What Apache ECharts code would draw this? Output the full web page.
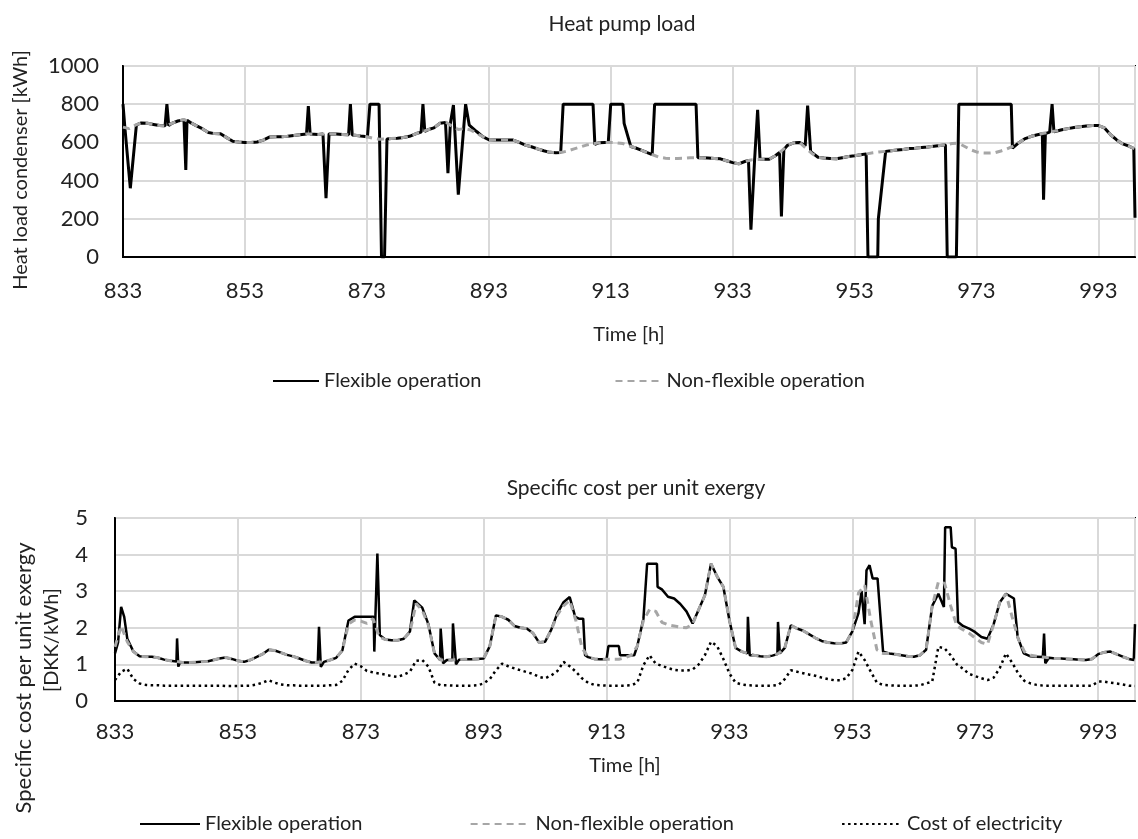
<!DOCTYPE html>
<html>
<head>
<meta charset="utf-8">
<title>Heat pump load / Specific cost per unit exergy</title>
<script src="https://cdn.jsdelivr.net/npm/echarts@6/dist/echarts.min.js"></script>
<style>
  html, body { margin: 0; padding: 0; background: #fff; }
  #chart { width: 1138px; height: 839px; }
</style>
</head>
<body>
<div id="chart"></div>
<script>
  // hour 0 on the axis is hour 833 of the year
  const T0 = 833
  const tickLabelsX = ['833', '853', '873', '893', '913', '933', '953', '973', '993']

  // heat load condenser [kWh], non-flexible, one value per hour (833..999)
  const loadNonFlex = [
    680, 672, 690, 702, 700, 694, 688, 686, 700, 712,
    720, 705, 688, 672, 652, 646, 645, 625, 606, 602,
    600, 600, 602, 612, 628, 630, 630, 632, 636, 640,
    644, 644, 642, 644, 645, 644, 642, 640, 638, 634,
    630, 622, 617, 618, 620, 622, 626, 632, 645, 655,
    666, 676, 700, 706, 684, 668, 672, 665, 648, 630,
    614, 613, 613, 613, 612, 600, 586, 577, 566, 556,
    548, 546, 548, 556, 566, 576, 586, 592, 598, 600,
    600, 598, 594, 582, 572, 560, 546, 534, 522, 517,
    516, 516, 517, 520, 520, 520, 518, 516, 514, 504,
    494, 488, 500, 508, 510, 512, 512, 530, 555, 585,
    598, 600, 570, 542, 522, 518, 516, 514, 520, 526,
    530, 535, 540, 546, 550, 553, 556, 560, 563, 568,
    570, 573, 576, 580, 584, 588, 594, 596, 580, 562,
    550, 545, 544, 546, 555, 566, 580, 600, 620, 632,
    640, 648, 654, 660, 666, 672, 678, 682, 686, 688,
    688, 676, 640, 613, 592, 580, 566
  ]

  // heat load condenser [kWh], flexible operation: [hour after 833, value]
  const loadFlex = [
    [0, 800], [0.3, 680], [1.2, 360], [2.2, 692], [3, 702], [4, 700], [5, 694], [6, 688],
    [6.9, 687], [7.2, 800], [7.5, 688], [8, 700], [9, 712], [10, 718], [10.3, 456], [10.5, 716],
    [11, 705], [12, 688], [13, 672], [14, 652], [15, 646], [16, 645], [17, 625], [18, 606],
    [19, 602], [20, 600], [21, 600], [22, 602], [23, 612], [24, 628], [25, 630], [26, 630],
    [27, 632], [28, 636], [29, 640], [30.1, 644], [30.4, 790], [30.7, 644], [31, 644], [32, 642],
    [32.8, 644], [33.3, 308], [33.8, 645], [34, 645], [35, 644], [36, 642], [37, 640], [37.3, 800],
    [37.6, 639], [38, 638], [39, 634], [40.1, 630], [40.5, 800], [42, 800], [42.4, 0], [42.9, 0],
    [43.3, 618], [44, 620], [45, 622], [46, 626], [47, 632], [48, 645], [48.9, 654], [49.2, 800],
    [49.5, 658], [50, 666], [51, 676], [52, 700], [52.9, 704], [53.3, 439], [53.7, 700], [54.2, 796],
    [55, 326], [56.2, 800], [56.8, 690], [57, 683], [58, 657], [59, 630], [60, 614], [61, 613],
    [62, 613], [63, 613], [64, 612], [65, 600], [66, 586], [67, 577], [68, 566], [69, 556],
    [70, 548], [71, 546], [71.8, 547], [72.2, 800], [77.1, 800], [77.4, 590], [78, 598], [79, 600],
    [79.6, 600], [80, 800], [82, 800], [82.2, 700], [83.3, 578], [84, 572], [85, 560], [86, 546],
    [86.8, 536], [87.2, 800], [94, 800], [94.3, 520], [95, 520], [96, 518], [97, 516], [98, 514],
    [99, 504], [100, 494], [101, 488], [102, 500], [102.6, 505], [103, 143], [103.6, 508], [104.1, 770],
    [104.5, 510], [105, 512], [106, 512], [107, 530], [107.7, 548], [108, 212], [108.4, 562], [109, 585],
    [110, 598], [111, 600], [111.9, 582], [112.3, 793], [112.8, 552], [113, 542], [114, 522], [115, 518],
    [116, 516], [117, 514], [118, 520], [119, 526], [120, 530], [121, 535], [121.9, 540], [122.2, 0],
    [123.8, 0], [123.9, 200], [125.1, 553], [126, 556], [127, 560], [128, 563], [129, 568], [130, 570],
    [131, 573], [132, 576], [133, 580], [134, 584], [134.9, 587], [135.2, 0], [136.7, 0], [137.1, 800],
    [145.7, 800], [145.9, 570], [147, 600], [148, 620], [149, 632], [150, 640], [150.8, 645], [151, 300],
    [151.3, 646], [152, 654], [152.4, 800], [152.7, 656], [153, 660], [154, 666], [155, 672], [156, 678],
    [157, 682], [158, 686], [159, 688], [160, 688], [161, 676], [162, 640], [163, 613], [164, 592],
    [165, 580], [165.8, 568], [166, 205]
  ]

  // specific cost per unit exergy [DKK/kWh], non-flexible, one value per hour
  const costNonFlex = [
    1.48, 2.05, 1.62, 1.35, 1.22, 1.21, 1.21, 1.18, 1.13, 1.10,
    1.08, 1.05, 1.05, 1.06, 1.07, 1.08, 1.12, 1.16, 1.19, 1.15,
    1.10, 1.07, 1.12, 1.20, 1.28, 1.40, 1.38, 1.32, 1.26, 1.22,
    1.16, 1.10, 1.05, 1.06, 1.07, 1.12, 1.18, 1.38, 2.10, 2.21,
    2.18, 2.12, 2.25, 1.75, 1.68, 1.66, 1.66, 1.70, 1.88, 2.66,
    2.48, 2.07, 1.30, 1.12, 1.12, 1.12, 1.13, 1.14, 1.14, 1.15,
    1.16, 1.50, 2.34, 2.30, 2.22, 2.05, 2.00, 1.98, 1.86, 1.60,
    1.62, 1.95, 2.35, 2.60, 2.75, 2.20, 1.45, 1.20, 1.15, 1.14,
    1.14, 1.14, 1.14, 1.18, 1.25, 1.50, 2.20, 2.50, 2.45, 2.15,
    2.08, 2.05, 2.02, 2.00, 2.10, 2.50, 2.89, 3.75, 3.40, 3.12,
    2.20, 1.45, 1.35, 1.30, 1.25, 1.22, 1.21, 1.24, 1.30, 1.45,
    2.07, 1.98, 1.92, 1.82, 1.72, 1.64, 1.60, 1.58, 1.57, 1.60,
    1.90, 2.95, 3.16, 2.20, 1.40, 1.30, 1.30, 1.28, 1.25, 1.22,
    1.21, 1.25, 1.40, 2.60, 3.25, 3.22, 2.60, 2.05, 1.95, 1.85,
    1.72, 1.60, 1.55, 2.10, 2.70, 2.93, 2.30, 1.70, 1.35, 1.25,
    1.22, 1.20, 1.18, 1.16, 1.16, 1.15, 1.14, 1.13, 1.12, 1.15,
    1.28, 1.33, 1.35, 1.28, 1.21, 1.15, 1.12
  ]

  // specific cost per unit exergy [DKK/kWh], flexible operation: [hour after 833, value]
  const costFlex = [
    [0, 1.3], [0.5, 1.6], [1, 2.57], [1.5, 2.3], [2, 1.7], [3, 1.35], [4, 1.22], [5, 1.21],
    [6, 1.21], [7, 1.18], [8, 1.13], [9, 1.1], [10, 1.08], [10.1, 1.71], [10.3, 0.94], [10.6, 1.06],
    [11, 1.05], [12, 1.05], [13, 1.06], [14, 1.07], [15, 1.08], [16, 1.12], [17, 1.16], [18, 1.19],
    [19, 1.15], [20, 1.1], [21, 1.07], [22, 1.12], [23, 1.2], [24, 1.28], [25, 1.4], [26, 1.38],
    [27, 1.32], [28, 1.26], [29, 1.22], [30, 1.16], [31, 1.1], [32, 1.05], [33, 1.06], [33.2, 2.03],
    [33.5, 0.93], [34, 1.07], [35, 1.12], [36, 1.18], [37, 1.38], [38, 2.2], [39, 2.3], [40, 2.3],
    [41, 2.3], [42.1, 2.3], [42.2, 1.35], [42.7, 4.03], [43.1, 1.8], [44, 1.68], [45, 1.66], [46, 1.66],
    [47, 1.7], [48, 1.9], [48.7, 2.75], [50, 2.55], [51, 2.1], [52, 1.3], [52.9, 1.12], [53, 1.98],
    [53.4, 1.03], [54, 1.12], [54.9, 1.12], [55, 2.12], [55.5, 1.0], [56, 1.13], [57, 1.14], [58, 1.14],
    [59, 1.15], [60, 1.16], [61, 1.5], [62, 2.34], [63, 2.3], [64, 2.22], [65, 2.05], [66, 2.0],
    [67, 1.98], [68, 1.86], [69, 1.6], [70, 1.62], [71, 1.95], [72, 2.4], [73, 2.7], [74, 2.84],
    [74.9, 2.3], [75.5, 2.25], [76.2, 2.25], [76.5, 1.25], [77, 1.2], [78, 1.15], [79, 1.14], [80, 1.14],
    [80.3, 1.5], [82, 1.5], [82.2, 1.25], [84.5, 1.25], [85, 1.5], [86, 2.25], [86.6, 3.75], [88.2, 3.75],
    [88.3, 3.12], [89, 3.05], [90, 2.85], [91, 2.8], [92, 2.65], [93, 2.45], [94, 2.12], [95, 2.5],
    [96, 2.89], [97, 3.75], [98, 3.4], [99, 3.12], [100, 2.2], [101, 1.45], [102, 1.35], [102.9, 1.3],
    [103, 2.3], [103.3, 1.25], [104, 1.25], [105, 1.22], [106, 1.21], [107, 1.24], [107.8, 1.28], [107.9, 2.16],
    [108.2, 1.3], [109, 1.45], [110, 2.07], [111, 1.98], [112, 1.92], [113, 1.82], [114, 1.72], [115, 1.64],
    [116, 1.6], [117, 1.58], [118, 1.57], [119, 1.6], [120, 1.9], [121, 2.4], [121.5, 3.0], [122, 2.1],
    [122.3, 3.57], [122.8, 3.71], [123.3, 3.35], [124.1, 3.35], [125, 1.35], [126, 1.3], [127, 1.28], [128, 1.25],
    [129, 1.22], [130, 1.21], [131, 1.25], [132, 1.4], [133, 2.6], [134, 2.93], [134.9, 2.57], [135.1, 4.75],
    [136, 4.75], [136.2, 4.2], [136.8, 4.16], [137.2, 2.16], [138, 2.05], [139, 1.98], [140, 1.88], [141, 1.75],
    [142, 1.7], [143, 2.1], [144, 2.7], [145, 2.93], [146.3, 2.8], [146.9, 1.75], [147.9, 1.3], [149, 1.22],
    [150, 1.21], [151, 1.2], [151.2, 1.84], [151.4, 1.03], [152, 1.18], [153, 1.16], [154, 1.16], [155, 1.15],
    [156, 1.14], [157, 1.13], [158, 1.12], [159, 1.15], [160, 1.28], [161, 1.33], [162, 1.35], [163, 1.28],
    [164, 1.21], [165, 1.15], [165.8, 1.12], [166, 2.1]
  ]

  // cost of electricity [DKK/kWh], one value per hour
  const elecCost = [
    0.57, 0.80, 0.88, 0.60, 0.48, 0.44, 0.43, 0.43, 0.42, 0.42,
    0.42, 0.42, 0.42, 0.42, 0.42, 0.42, 0.42, 0.42, 0.41, 0.41,
    0.41, 0.42, 0.42, 0.45, 0.50, 0.57, 0.50, 0.45, 0.43, 0.43,
    0.42, 0.42, 0.42, 0.42, 0.42, 0.43, 0.44, 0.55, 0.85, 1.02,
    0.95, 0.82, 0.78, 0.75, 0.72, 0.68, 0.66, 0.72, 0.80, 1.10,
    1.12, 0.94, 0.50, 0.43, 0.43, 0.42, 0.42, 0.42, 0.42, 0.43,
    0.48, 0.60, 0.84, 1.02, 0.95, 0.89, 0.84, 0.79, 0.74, 0.66,
    0.62, 0.70, 0.82, 1.07, 0.95, 0.80, 0.62, 0.50, 0.44, 0.43,
    0.42, 0.42, 0.42, 0.42, 0.43, 0.50, 0.98, 1.25, 1.02, 0.96,
    0.90, 0.85, 0.83, 0.83, 0.86, 1.00, 1.25, 1.62, 1.50, 1.15,
    0.75, 0.50, 0.45, 0.43, 0.42, 0.42, 0.42, 0.42, 0.44, 0.60,
    0.84, 0.80, 0.76, 0.72, 0.69, 0.64, 0.60, 0.57, 0.57, 0.62,
    0.85, 1.35, 1.12, 0.80, 0.50, 0.44, 0.43, 0.42, 0.42, 0.42,
    0.42, 0.43, 0.48, 0.53, 1.48, 1.44, 1.25, 1.00, 0.88, 0.74,
    0.68, 0.62, 0.57, 0.64, 0.90, 1.30, 1.05, 0.75, 0.55, 0.48,
    0.44, 0.42, 0.42, 0.42, 0.42, 0.42, 0.42, 0.42, 0.42, 0.42,
    0.53, 0.53, 0.50, 0.48, 0.45, 0.42, 0.41
  ]

  const FONT = 'Lato'
  const TXT = '#222'
  const WORD_SIZE = 20

  let hourly = arr => arr.map((v, i) => [i, v])

  let xAxisFor = gridIndex => ({
    type: 'value',
    gridIndex: gridIndex,
    min: 0,
    max: 166,
    interval: 20,
    name: 'Time [h]',
    nameLocation: 'middle',
    nameGap: gridIndex === 0 ? 68 : 55,
    nameTextStyle: { fontFamily: FONT, fontSize: WORD_SIZE, color: TXT },
    axisLine: { show: true, lineStyle: { color: '#000', width: 2 } },
    axisTick: { show: false },
    axisLabel: {
      fontFamily: FONT, fontSize: 22, color: TXT, margin: gridIndex === 0 ? 23 : 20,
      formatter: v => tickLabelsX[v / 20] || ''
    },
    splitLine: { show: true, lineStyle: { color: '#d9d9d9', width: 2 } }
  })

  let yTitle = (text, x, y, size) => ({
    type: 'text', x: x, y: y, rotation: Math.PI / 2,
    style: {
      text: text, fill: TXT, font: (size || WORD_SIZE) + 'px ' + FONT,
      align: 'center', verticalAlign: 'middle'
    }
  })

  let myChart = echarts.init(document.getElementById('chart'))
  myChart.setOption({
    animation: false,
    backgroundColor: '#fff',
    textStyle: { fontFamily: FONT },
    title: [
      { text: 'Heat pump load', left: 617, top: 9, textAlign: 'center',
        textStyle: { fontFamily: FONT, fontSize: 21, fontWeight: 'normal', color: TXT } },
      { text: 'Specific cost per unit exergy', left: 631, top: 473, textAlign: 'center',
        textStyle: { fontFamily: FONT, fontSize: 21, fontWeight: 'normal', color: TXT } }
    ],
    legend: [
      {
        top: 366, left: 267,
        itemWidth: 46, itemHeight: 14, itemGap: 133,
        itemStyle: { opacity: 0 },
        textStyle: { fontFamily: FONT, fontSize: WORD_SIZE, color: TXT },
        data: ['Flexible operation', 'Non-flexible operation']
      },
      {
        top: 809, left: 134,
        itemWidth: 60, itemHeight: 14, itemGap: 102,
        itemStyle: { opacity: 0 },
        textStyle: { fontFamily: FONT, fontSize: WORD_SIZE, color: TXT },
        data: ['Flexible operation ', 'Non-flexible operation ', 'Cost of electricity']
      }
    ],
    graphic: [
      yTitle('Heat load condenser [kWh]', 21, 170),
      yTitle('Specific cost per unit exergy', 24, 678, 22),
      yTitle('[DKK/kWh]', 52, 640)
    ],
    grid: [
      { left: 123, top: 66, right: -1, height: 191, show: true, borderColor: '#000', borderWidth: 2 },
      { left: 115, top: 518, right: -1, height: 183, show: true, borderColor: '#000', borderWidth: 2 }
    ],
    xAxis: [xAxisFor(0), xAxisFor(1)],
    yAxis: [
      {
        type: 'value', gridIndex: 0, min: 0, max: 1000, interval: 200,
        axisLine: { show: true, lineStyle: { color: '#000', width: 2 } },
        axisTick: { show: false },
        axisLabel: { fontFamily: FONT, fontSize: 22, color: TXT, margin: 24, formatter: v => String(v) },
        splitLine: { show: true, lineStyle: { color: '#d9d9d9', width: 2 } }
      },
      {
        type: 'value', gridIndex: 1, min: 0, max: 5, interval: 1,
        axisLine: { show: true, lineStyle: { color: '#000', width: 2 } },
        axisTick: { show: false },
        axisLabel: { fontFamily: FONT, fontSize: 22, color: TXT, margin: 27, formatter: v => String(v) },
        splitLine: { show: true, lineStyle: { color: '#d9d9d9', width: 2 } }
      }
    ],
    series: [
      {
        name: 'Flexible operation', type: 'line', xAxisIndex: 0, yAxisIndex: 0,
        data: loadFlex, symbol: 'none', z: 3,
        lineStyle: { color: '#000', width: 3 }, itemStyle: { color: '#000' }
      },
      {
        name: 'Non-flexible operation', type: 'line', xAxisIndex: 0, yAxisIndex: 0,
        data: hourly(loadNonFlex), symbol: 'none', z: 4,
        lineStyle: { color: '#a6a6a6', width: 3, type: [7, 5] }, itemStyle: { color: '#a6a6a6' }
      },
      {
        name: 'Flexible operation ', type: 'line', xAxisIndex: 1, yAxisIndex: 1,
        data: costFlex, symbol: 'none', z: 3,
        lineStyle: { color: '#000', width: 2.5 }, itemStyle: { color: '#000' }
      },
      {
        name: 'Non-flexible operation ', type: 'line', xAxisIndex: 1, yAxisIndex: 1,
        data: hourly(costNonFlex), symbol: 'none', z: 4,
        lineStyle: { color: '#a6a6a6', width: 3, type: [7, 5] }, itemStyle: { color: '#a6a6a6' }
      },
      {
        name: 'Cost of electricity', type: 'line', xAxisIndex: 1, yAxisIndex: 1,
        data: hourly(elecCost), symbol: 'none', z: 5,
        lineStyle: { color: '#000', width: 2.5, type: [2.5, 3.5] }, itemStyle: { color: '#000' }
      }
    ]
  })
</script>
</body>
</html>
